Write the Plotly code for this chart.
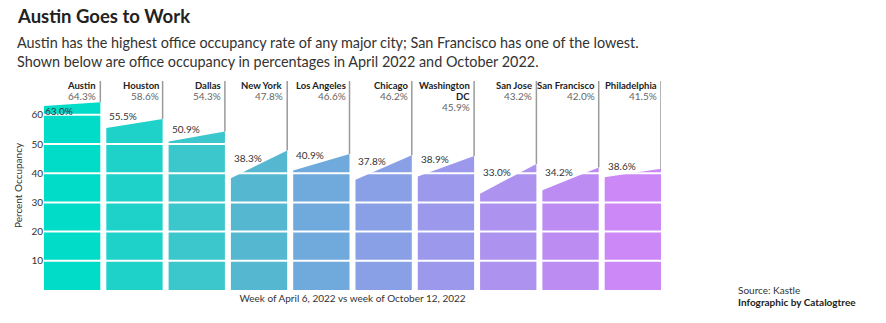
import plotly.graph_objects as go

cities = ["Austin", "Houston", "Dallas", "New York", "Los Angeles", "Chicago",
          "Washington<br>DC", "San Jose", "San Francisco", "Philadelphia"]
april = [63.0, 55.5, 50.9, 38.3, 40.9, 37.8, 38.9, 33.0, 34.2, 38.6]
october = [64.3, 58.6, 54.3, 47.8, 46.6, 46.2, 45.9, 43.2, 42.0, 41.5]
colors = ["#00DCC8", "#1ED2CA", "#3CC7CC", "#56B8D0", "#70A9DC", "#8AA0E6",
          "#9C98EC", "#AD92EF", "#BC8CF2", "#CC88F7"]
yticks = [10, 20, 30, 40, 50, 60]

FONT = "Lato, 'Open Sans', sans-serif"
W = 0.904  # segment width in category units
YMAX = 71.6
XMIN, XMAX = -W / 2, len(cities) - 1 + W / 2

fig = go.Figure()
for i, (c, a, o, col) in enumerate(zip(cities, april, october, colors)):
    fig.add_trace(go.Scatter(
        x=[i - W / 2, i + W / 2], y=[a, o], mode="lines",
        line=dict(width=0, color=col), fill="tozeroy", fillcolor=col,
        hoverinfo="skip", showlegend=False))

shapes = []
annotations = []
# white gridlines drawn over the areas
for yv in yticks:
    shapes.append(dict(type="line", xref="x", yref="y", x0=XMIN, x1=XMAX, y0=yv, y1=yv,
                       line=dict(color="#FFFFFF", width=2), layer="above"))

for i, (c, a, o) in enumerate(zip(cities, april, october)):
    xr = i + W / 2
    shapes.append(dict(type="line", xref="x", yref="y", x0=xr, x1=xr, y0=o, y1=YMAX,
                       line=dict(color="#9a9a9a", width=1.5), layer="above"))
    lines = [f"<b>{p}</b>" for p in c.split("<br>")] + [f"{o:.1f}%"]
    for k, txt in enumerate(lines):
        is_val = k == len(lines) - 1
        annotations.append(dict(
            x=xr, y=YMAX, xref="x", yref="y", xanchor="right", yanchor="middle",
            xshift=-2, yshift=-4 - 11 * k, showarrow=False, text=txt,
            font=dict(family=FONT, size=10 if is_val else 9.5,
                      color="#666" if is_val else "#222")))
    # April label at left edge, sitting on the sloped top
    frac = 0.45
    ytop = a + (o - a) * frac
    if i == 0 and ytop + 6 > YMAX - 10:
        annotations.append(dict(x=i - W / 2, y=a, xref="x", yref="y", xanchor="left",
                                yanchor="top", xshift=-1, yshift=3, showarrow=False,
                                text=f"{a:.1f}%", font=dict(family=FONT, size=10, color="#333")))
    else:
        annotations.append(dict(x=i - W / 2, y=ytop, xref="x", yref="y", xanchor="left",
                                yanchor="bottom", xshift=1, yshift=0, showarrow=False,
                                text=f"{a:.1f}%", font=dict(family=FONT, size=10, color="#333")))

annotations += [
    dict(x=15, y=16, xref="pixel", yref="pixel", text="<b>Austin Goes to Work</b>",
         showarrow=False, xanchor="left", yanchor="middle",
         font=dict(family=FONT, size=18.5, color="#222")),
    dict(x=15, y=52, xref="pixel", yref="pixel", align="left",
         text="Austin has the highest office occupancy rate of any major city; San Francisco has one of the lowest.<br>"
              "Shown below are office occupancy in percentages in April 2022 and October 2022.",
         showarrow=False, xanchor="left", yanchor="middle",
         font=dict(family=FONT, size=14.4, color="#333")),
    dict(x=736, y=290, xref="pixel", yref="pixel", text="Source: Kastle",
         showarrow=False, xanchor="left", yanchor="middle",
         font=dict(family=FONT, size=10, color="#333")),
    dict(x=736, y=302, xref="pixel", yref="pixel", text="<b>Infographic by Catalogtree</b>",
         showarrow=False, xanchor="left", yanchor="middle",
         font=dict(family=FONT, size=10, color="#222")),
]

# convert pixel annotations to paper coords
L, R, T, B = 44, 225, 81, 33
PW, PH = 886 - L - R, 323 - T - B
for an in annotations:
    if an.get("xref") == "pixel":
        an["xref"] = "paper"
        an["yref"] = "paper"
        an["x"] = (an["x"] - L) / PW
        an["y"] = 1 - (an["y"] - T) / PH

fig.update_layout(
    width=886, height=323, margin=dict(l=L, r=R, t=T, b=B),
    paper_bgcolor="white", plot_bgcolor="white",
    font=dict(family=FONT, size=10, color="#333"),
    shapes=shapes, annotations=annotations,
    xaxis=dict(range=[XMIN, XMAX], showgrid=False, zeroline=False,
               showticklabels=False, ticks="", fixedrange=True,
               title=dict(text="Week of April 6, 2022 vs week of October 12, 2022",
                          font=dict(family=FONT, size=10, color="#333"), standoff=4)),
    yaxis=dict(range=[0, YMAX], tickvals=yticks, showgrid=False, zeroline=False,
               ticks="", tickfont=dict(family=FONT, size=10, color="#333"),
               title=dict(text="Percent Occupancy", font=dict(family=FONT, size=10, color="#333"),
                          standoff=6)),
)

fig.write_html("out.html")
